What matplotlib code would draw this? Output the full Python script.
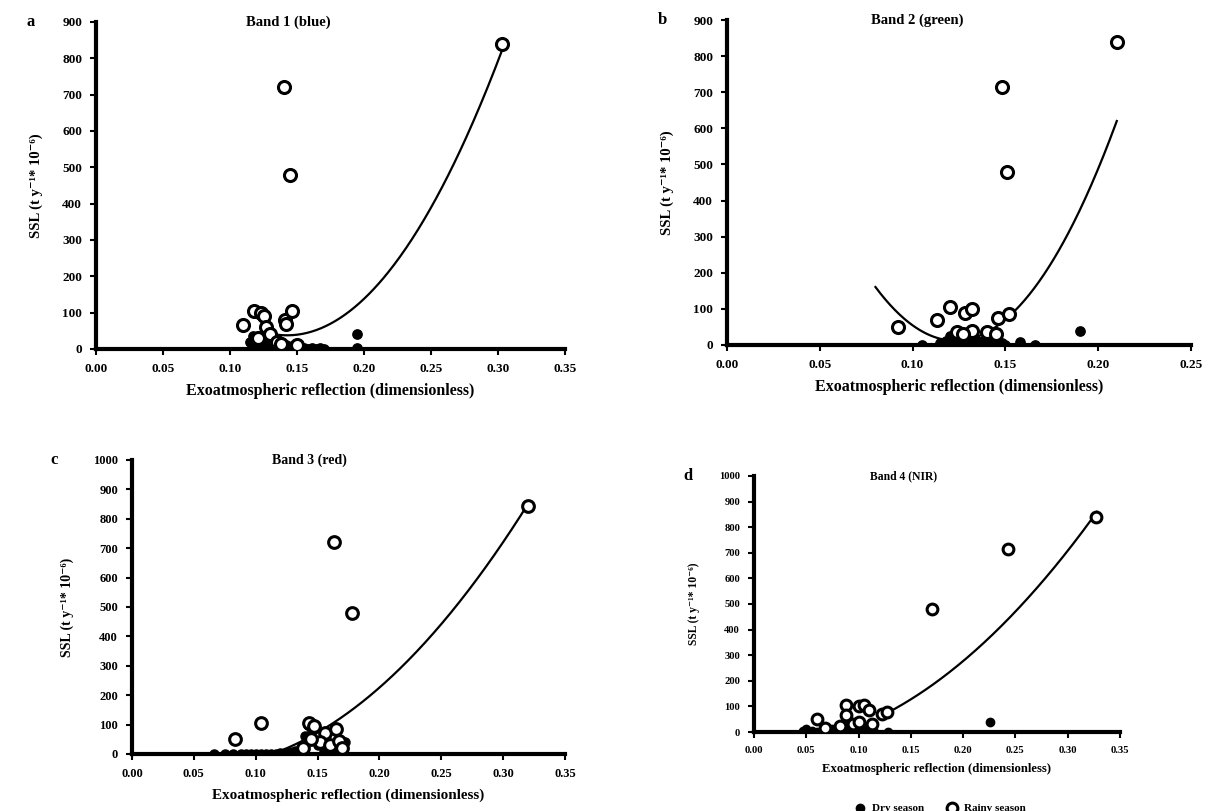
import matplotlib.pyplot as plt
import numpy as np

plt.rcParams['font.family'] = ['Liberation Serif', 'DejaVu Serif']
plt.rcParams['font.weight'] = 'bold'

# Band 1 (blue)
dry_a_x = [0.115, 0.117, 0.119, 0.120, 0.122, 0.124, 0.126, 0.128, 0.130, 0.132, 0.134, 0.136,
           0.138, 0.140, 0.142, 0.144, 0.146, 0.148, 0.150, 0.152, 0.155, 0.158, 0.161, 0.164,
           0.167, 0.170, 0.195, 0.195]
dry_a_y = [20, 35, 10, 25, 15, 5, 30, 10, 5, 15, 2, 8, 20, 5, 10, 3, 8, 2, 5, 0, 3, 0, 4, 0, 2, 0, 40, 3]
rain_a_x = [0.110, 0.118, 0.123, 0.125, 0.127, 0.130, 0.141, 0.142, 0.146, 0.140, 0.145, 0.303,
            0.121, 0.135, 0.138, 0.150]
rain_a_y = [65, 105, 100, 90, 60, 40, 80, 70, 105, 720, 480, 840, 30, 20, 15, 10]
trend_a = [30500, -8700, 658]
trend_a_range = [0.125, 0.303]

# Band 2 (green)
dry_b_x = [0.105, 0.115, 0.118, 0.120, 0.122, 0.124, 0.126, 0.128, 0.130, 0.132, 0.134, 0.136,
           0.138, 0.140, 0.143, 0.145, 0.148, 0.150, 0.158, 0.166, 0.190]
dry_b_y = [0, 5, 10, 25, 15, 5, 20, 0, 10, 5, 15, 0, 10, 5, 8, 0, 5, 0, 8, 0, 40]
rain_b_x = [0.092, 0.113, 0.120, 0.128, 0.132, 0.132, 0.140, 0.145, 0.146, 0.152, 0.148, 0.151,
            0.210, 0.124, 0.127]
rain_b_y = [50, 70, 105, 90, 100, 40, 35, 30, 75, 85, 715, 480, 840, 35, 30]
trend_b = [80370, -19771, 1227.9]
trend_b_range = [0.080, 0.210]

# Band 3 (red)
dry_c_x = [0.066, 0.075, 0.082, 0.088, 0.092, 0.096, 0.100, 0.104, 0.108, 0.112, 0.116, 0.120,
           0.124, 0.128, 0.132, 0.136, 0.140, 0.142, 0.145, 0.150, 0.155, 0.160, 0.165, 0.168, 0.172]
dry_c_y = [0, 0, 0, 0, 0, 0, 0, 0, 0, 0, 0, 2, 5, 8, 10, 15, 60, 100, 90, 30, 10, 20, 5, 15, 40]
rain_c_x = [0.083, 0.104, 0.143, 0.147, 0.156, 0.165, 0.163, 0.178, 0.320, 0.152, 0.160, 0.167,
            0.170, 0.138, 0.145]
rain_c_y = [50, 105, 105, 95, 70, 85, 720, 480, 845, 40, 30, 45, 20, 20, 50]
trend_c = [12561, -1331, -10.4]
trend_c_range = [0.120, 0.320]

# Band 4 (NIR)
dry_d_x = [0.047, 0.050, 0.055, 0.060, 0.065, 0.070, 0.075, 0.080, 0.085, 0.090, 0.095, 0.100,
           0.105, 0.110, 0.115, 0.128, 0.226]
dry_d_y = [5, 10, 2, 0, 5, 8, 10, 15, 20, 25, 20, 10, 20, 5, 0, 0, 40]
rain_d_x = [0.060, 0.088, 0.088, 0.100, 0.105, 0.110, 0.122, 0.127, 0.113, 0.095, 0.068, 0.082,
            0.170, 0.243, 0.327, 0.100]
rain_d_y = [50, 105, 65, 100, 105, 85, 70, 80, 30, 30, 15, 25, 480, 715, 840, 40]
trend_d = [8793, -88, -57]
trend_d_range = [0.120, 0.328]

xlabel = 'Exoatmospheric reflection (dimensionless)'
ylabel = 'SSL (t y\u207b\u00b9* 10\u207b\u2076)'

fig = plt.figure(figsize=(12.12, 8.11), dpi=100)

panels = [
    # rect, letter, title, data, trend, xmax, ymax, font scale
    ([0.0792, 0.5697, 0.3870, 0.4032], 'a', 'Band 1 (blue)',
     (dry_a_x, dry_a_y, rain_a_x, rain_a_y), (trend_a, trend_a_range), 0.35, 900, 1.0),
    ([0.5998, 0.5746, 0.3829, 0.4007], 'b', 'Band 2 (green)',
     (dry_b_x, dry_b_y, rain_b_x, rain_b_y), (trend_b, trend_b_range), 0.25, 900, 1.0),
    ([0.1089, 0.0703, 0.3573, 0.3625], 'c', 'Band 3 (red)',
     (dry_c_x, dry_c_y, rain_c_x, rain_c_y), (trend_c, trend_c_range), 0.35, 1000, 0.95),
    ([0.6221, 0.0974, 0.3020, 0.3157], 'd', 'Band 4 (NIR)',
     (dry_d_x, dry_d_y, rain_d_x, rain_d_y), (trend_d, trend_d_range), 0.35, 1000, 0.8),
]

for rect, letter, title, data, trend, xmax, ymax, fs in panels:
    ax = fig.add_axes(rect)
    dx, dy, rx, ry = data
    ax.scatter(dx, dy, s=45 * fs, color='black', zorder=3, label='Dry season')
    ax.scatter(rx, ry, s=75 * fs, facecolor='white', edgecolor='black', linewidth=2.2,
               zorder=4, label='Rainy season')
    coef, xr = trend
    xs = np.linspace(xr[0], xr[1], 200)
    ax.plot(xs, np.polyval(coef, xs), color='black', lw=1.6, zorder=2)

    ax.set_xlim(0, xmax)
    ax.set_ylim(0, ymax)
    ax.set_xticks(np.arange(0, xmax + 0.001, 0.05))
    ax.set_yticks(np.arange(0, ymax + 1, 100))
    ax.xaxis.set_major_formatter(plt.FormatStrFormatter('%.2f'))
    for s in ['top', 'right']:
        ax.spines[s].set_visible(False)
    for s in ['left', 'bottom']:
        ax.spines[s].set_linewidth(3)
    ax.tick_params(direction='out', length=4, width=1.5, labelsize=9.5 * fs, pad=6)
    for lab in ax.get_xticklabels() + ax.get_yticklabels():
        lab.set_fontweight('bold')

    ax.set_xlabel(xlabel, fontsize=11.5 * fs, fontweight='bold', labelpad=6)
    ax.set_ylabel(ylabel, fontsize=10.5 * fs, fontweight='bold', labelpad=14)
    ax.text(0.41, 1.0, title, transform=ax.transAxes, ha='center', va='center',
            fontsize=10.5 * fs, fontweight='bold')
    ax.text(-0.14 if letter in 'ab' else -0.18, 1.0, letter, transform=ax.transAxes,
            ha='center', va='center', fontsize=12, fontweight='bold')

    if letter == 'd':
        ax.legend(loc='upper center', bbox_to_anchor=(0.5, -0.24), ncol=2, frameon=False,
                  handletextpad=0.1, columnspacing=1.5,
                  prop={'weight': 'bold', 'size': 8})

fig.savefig('out.png', dpi=100)
